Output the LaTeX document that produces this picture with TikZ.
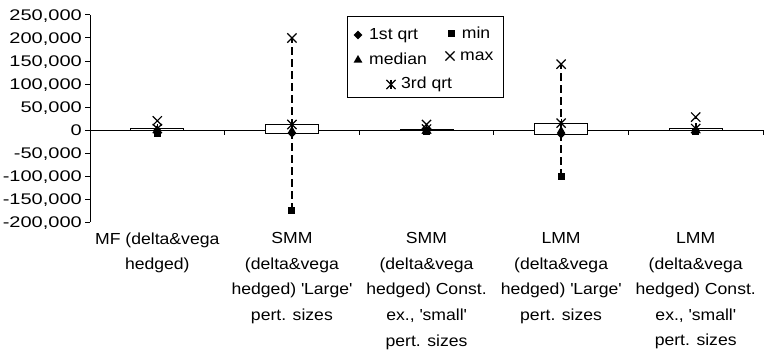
\documentclass[tikz,border=0pt]{standalone}
\usepackage{fontspec}
\setmainfont{Liberation Sans}
\newfontfamily\lblfont[FakeStretch=1.1]{Liberation Sans}
\newfontfamily\tickfont[FakeStretch=1.3]{Liberation Sans}
\usetikzlibrary{shapes.geometric,shapes.misc}
\tikzset{
  ticklabel/.style={anchor=base east, inner sep=0, font=\tickfont\fontsize{15.4}{18}\selectfont},
  catlabel/.style={anchor=north, align=center, inner sep=0, font=\lblfont\fontsize{16}{25.6}\selectfont},
  legtext/.style={anchor=base west, inner sep=0, font=\lblfont\fontsize{16}{18}\selectfont},
  qbox/.style={draw=black, fill=white, line width=1pt},
  rangeline/.style={line width=1.8pt, dash pattern=on 8pt off 4pt},
  qonemark/.style={diamond, fill=black, inner sep=0, minimum size=9pt},
  minmark/.style={rectangle, fill=black, inner sep=0, minimum size=7pt},
  medmark/.style={regular polygon, regular polygon sides=3, fill=black, inner sep=0, minimum size=10pt},
  maxmark/.style={cross out, draw=black, line width=1.2pt, inner sep=0, minimum size=8pt},
  qthreemark/.style={cross out, draw=black, line width=1.2pt, inner sep=0, minimum size=8pt,
    append after command={(\tikzlastnode.north) edge[line width=1.2pt] (\tikzlastnode.south)}}
}
\begin{document}
\begin{tikzpicture}[x=1pt, y=1pt]
        \useasboundingbox (0,0) rectangle (771,349);

        \draw[line width=1pt] (90,334) -- (90,127);
        \draw[line width=1pt] (90,219) -- (763,219);
        \foreach \yv in {334,311,288,265,242,219,196,173,150,127}
            \draw[line width=1pt] (85,\yv) -- (90,\yv);
        \foreach \xv in {224.6,359.2,493.8,628.4,763}
            \draw[line width=1pt] (\xv,219) -- (\xv,214);

        \node[ticklabel] (t250) at (82,328.5) {250,000};
        \node[ticklabel] (t200) at (82,305.5) {200,000};
        \node[ticklabel] (t150) at (82,282.5) {150,000};
        \node[ticklabel] (t100) at (82,259.5) {100,000};
        \node[ticklabel] (t50) at (82,236.5) {50,000};
        \node[ticklabel] (t0) at (82,213.5) {0};
        \node[ticklabel] (tm50) at (82,190.5) {-50,000};
        \node[ticklabel] (tm100) at (82,167.5) {-100,000};
        \node[ticklabel] (tm150) at (82,144.5) {-150,000};
        \node[ticklabel] (tm200) at (82,121.5) {-200,000};

        \draw[qbox] (130.8,218.5) rectangle (183.8,220.4);
        \coordinate (lo1) at (157.3,215.3);
        \coordinate (hi1) at (157.3,228.2);
        \draw[rangeline] (lo1) -- (hi1);
        \node[minmark] (min1) at (lo1) {};
        \node[qonemark] (qa1) at (157.3,218.5) {};
        \node[medmark] (med1) at (157.3,219) {};
        \node[qthreemark] (qb1) at (157.3,220.4) {};
        \node[maxmark] (max1) at (hi1) {};

        \draw[qbox] (265.4,215.8) rectangle (318.4,224.5);
        \coordinate (lo2) at (291.9,138.5);
        \coordinate (hi2) at (291.9,311);
        \draw[rangeline] (lo2) -- (hi2);
        \node[minmark] (min2) at (lo2) {};
        \node[qonemark] (qa2) at (291.9,215.8) {};
        \node[medmark] (med2) at (291.9,218.1) {};
        \node[qthreemark] (qb2) at (291.9,224.5) {};
        \node[maxmark] (max2) at (hi2) {};

        \draw[qbox] (400,218.5) rectangle (453,219.9);
        \coordinate (lo3) at (426.5,217.6);
        \coordinate (hi3) at (426.5,224.5);
        \draw[rangeline] (lo3) -- (hi3);
        \node[minmark] (min3) at (lo3) {};
        \node[qonemark] (qa3) at (426.5,218.5) {};
        \node[medmark] (med3) at (426.5,219) {};
        \node[qthreemark] (qb3) at (426.5,219.9) {};
        \node[maxmark] (max3) at (hi3) {};

        \draw[qbox] (534.6,214.9) rectangle (587.6,225.9);
        \coordinate (lo4) at (561.1,172.1);
        \coordinate (hi4) at (561.1,284.8);
        \draw[rangeline] (lo4) -- (hi4);
        \node[minmark] (min4) at (lo4) {};
        \node[qonemark] (qa4) at (561.1,214.9) {};
        \node[medmark] (med4) at (561.1,218.1) {};
        \node[qthreemark] (qb4) at (561.1,225.9) {};
        \node[maxmark] (max4) at (hi4) {};

        \draw[qbox] (669.2,218.5) rectangle (722.2,220.4);
        \coordinate (lo5) at (695.7,217.6);
        \coordinate (hi5) at (695.7,231.9);
        \draw[rangeline] (lo5) -- (hi5);
        \node[minmark] (min5) at (lo5) {};
        \node[qonemark] (qa5) at (695.7,218.5) {};
        \node[medmark] (med5) at (695.7,219) {};
        \node[qthreemark] (qb5) at (695.7,220.4) {};
        \node[maxmark] (max5) at (hi5) {};

        \node[catlabel] (cat1) at (157.3,116.7) {MF (delta\&vega\\hedged)};
        \node[catlabel] (cat2) at (291.9,116.7) {SMM\\(delta\&vega\\hedged) \textquotesingle Large\textquotesingle\\pert. sizes};
        \node[catlabel] (cat3) at (426.5,116.7) {SMM\\(delta\&vega\\hedged) Const.\\ex., \textquotesingle small\textquotesingle\\pert. sizes};
        \node[catlabel] (cat4) at (561.1,116.7) {LMM\\(delta\&vega\\hedged) \textquotesingle Large\textquotesingle\\pert. sizes};
        \node[catlabel] (cat5) at (695.7,116.7) {LMM\\(delta\&vega\\hedged) Const.\\ex., \textquotesingle small\textquotesingle\\pert. sizes};

        \draw[line width=1pt, fill=white] (347,332) rectangle (503,252);
        \node[qonemark] (legqa) at (358,314) {};
        \node[legtext] (legqatext) at (369,309) {1st qrt};
        \node[minmark] (legmin) at (451.7,315) {};
        \node[legtext] (legmintext) at (461.7,310.5) {min};
        \node[medmark] (legmed) at (358,289) {};
        \node[legtext] (legmedtext) at (369,285) {median};
        \node[maxmark] (legmax) at (450,293) {};
        \node[legtext] (legmaxtext) at (460,288.3) {max};
        \node[qthreemark] (legqb) at (391,264.5) {};
        \node[legtext] (legqbtext) at (401,261) {3rd qrt};
    \end{tikzpicture}
\end{document}
